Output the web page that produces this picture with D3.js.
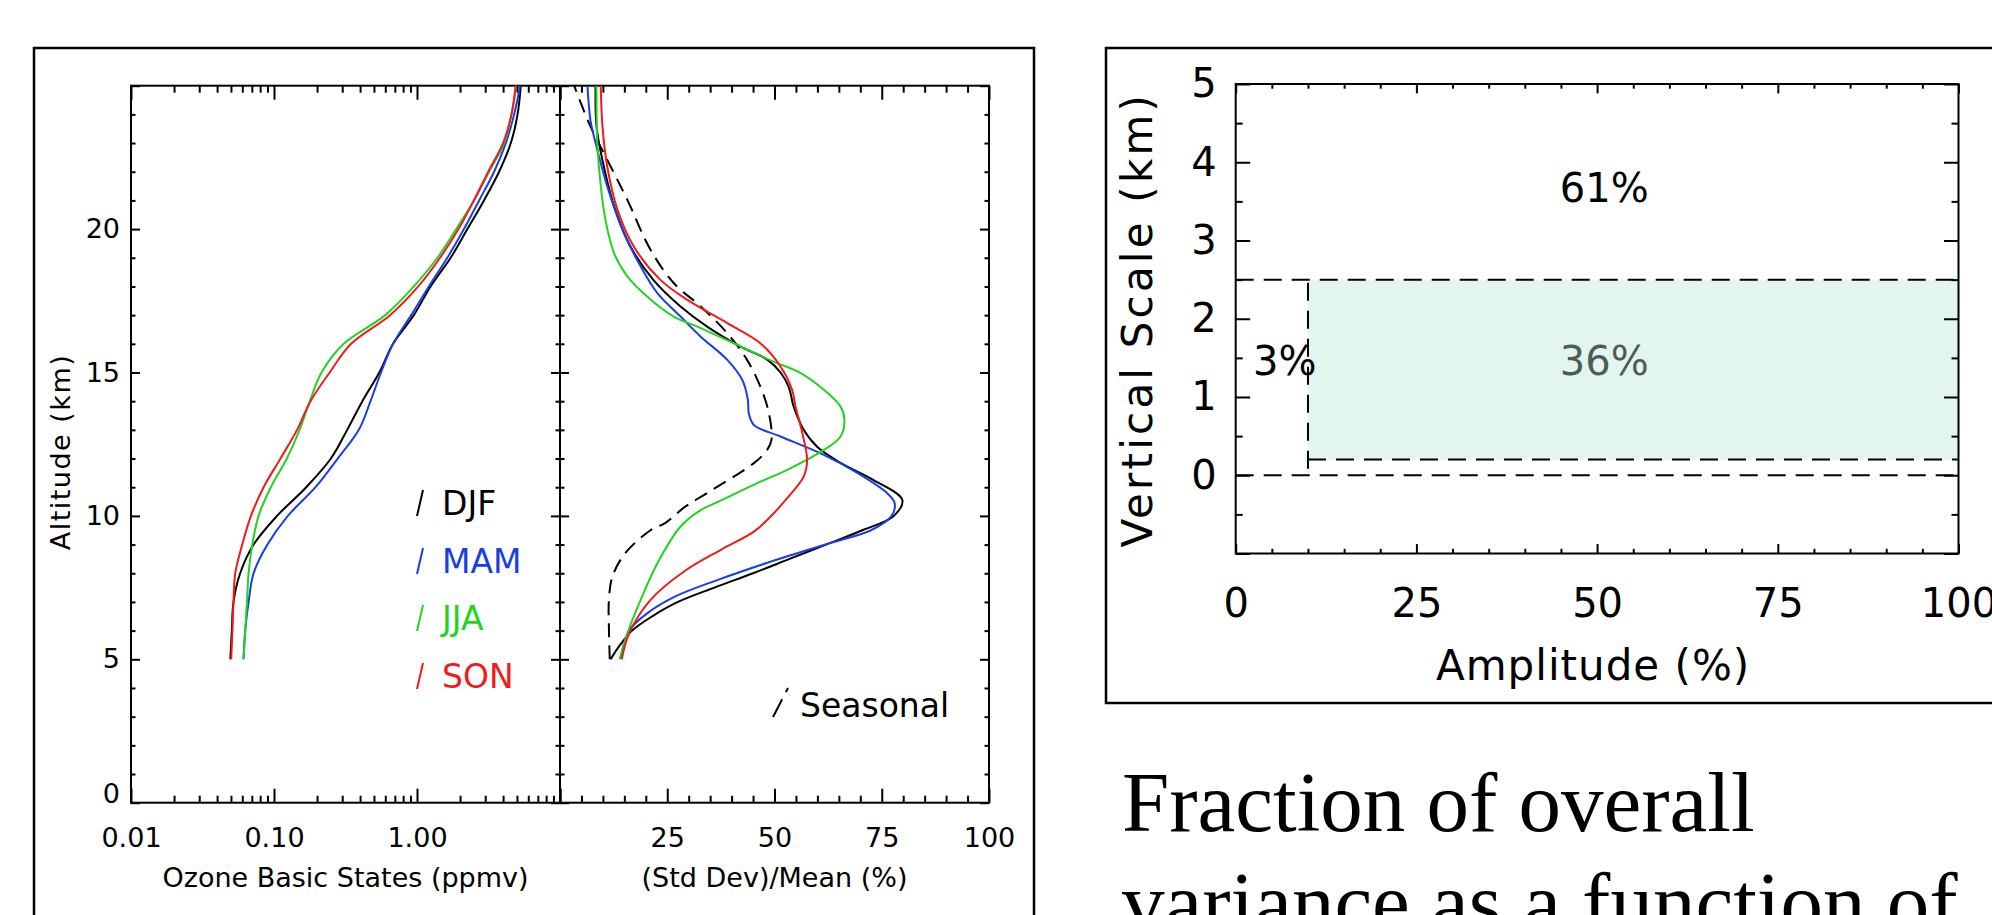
<!DOCTYPE html>
<html><head><meta charset="utf-8">
<script src="https://cdn.jsdelivr.net/npm/d3@7"></script>
<style>html,body{margin:0;padding:0;background:#fff;overflow:hidden}</style>
</head><body>
<svg id="fig" width="1992" height="915" xmlns="http://www.w3.org/2000/svg"></svg>
<script>
// ================= DATA =================
// Left figure, panel 1: ozone basic states (ppmv) at each altitude (km)
const altitudes = [5,6,7,8,9,10,11,12,13,14,15,16,17,18,19,20,21,22,23,24,25];
const seasons   = ["DJF","MAM","JJA","SON"];
const ozoneDJF = [0.0495,0.0507,0.0521,0.058,0.072,0.105,0.168,0.25,0.325,0.415,0.545,0.68,0.95,1.245,1.72,2.25,2.94,3.75,4.53,5.05,5.32];
const ozoneMAM = [0.0612,0.0629,0.0664,0.072,0.090,0.125,0.195,0.279,0.392,0.473,0.56,0.68,0.91,1.21,1.63,2.13,2.72,3.46,4.18,4.78,5.26];
const ozoneJJA = [0.0612,0.0629,0.0647,0.0664,0.0705,0.078,0.095,0.123,0.151,0.178,0.215,0.307,0.60,0.95,1.39,1.88,2.50,3.19,4.06,4.58,4.91];
const ozoneSON = [0.0502,0.0512,0.0521,0.0536,0.060,0.069,0.0846,0.111,0.145,0.180,0.245,0.346,0.648,1.02,1.45,1.95,2.50,3.15,4.0,4.58,4.91];

// Left figure, panel 2: (Std Dev)/Mean (%) as [altitude km, percent]
const devDJF = [[5,11.8],[5.5,14.0],[6,16.8],[6.5,21.5],[7,27.5],[7.5,36.0],[8,45.0],[8.5,53.5],[9,62.0],[9.5,70.5],[10,77.8],[10.55,79.8],[11.25,73.1],[11.85,65.4],[12.4,60.0],[13,56.8],[13.8,54.5],[14.5,53.3],[15,51.4],[15.45,48.3],[15.9,42.1],[16.6,34.3],[17.3,28.1],[18.2,21.9],[19.4,16.4],[20.8,12.6],[22.4,9.9],[23.6,8.5],[25,8.3]];
const devMAM = [[5,14.1],[6,16.1],[6.6,20.3],[7.2,27.0],[7.77,36.8],[8.35,48.0],[8.8,57.5],[9.1,64.0],[9.5,72.5],[10,77.3],[10.45,78.0],[10.8,76.2],[11.5,69.3],[12.13,61.5],[12.77,51.4],[13.17,45.2],[13.58,44.0],[14.05,43.8],[14.74,42.5],[15.44,39.0],[16.25,32.8],[16.95,28.1],[17.77,22.7],[18.7,18.8],[19.86,14.9],[21.5,11.0],[23.0,8.3],[23.8,7.1],[25,6.4]];
const devJJA = [[5,13.9],[5.9,15.7],[7.07,18.8],[8.35,22.7],[9.63,28.1],[10.2,32.8],[10.5,37.0],[11.14,46.0],[11.66,53.7],[12.3,61.5],[12.77,65.4],[13.35,66.3],[13.81,65.4],[14.4,61.5],[14.98,56.1],[15.38,49.8],[16.02,40.5],[16.6,32.0],[16.95,26.5],[17.65,20.3],[18.35,15.7],[19.16,12.6],[20.32,10.6],[21.5,9.5],[23.0,8.7],[25,8.5]];
const devSON = [[5,14.4],[5.9,16.1],[7.07,21.1],[8.06,28.9],[8.81,37.4],[9.45,45.2],[9.98,49.1],[10.56,52.6],[11.37,56.8],[11.95,57.6],[12.88,56.5],[13.81,54.9],[14.4,54.1],[15.21,51.4],[16.02,46.7],[16.72,39.0],[17.53,29.7],[18.23,23.4],[19.39,17.2],[20.67,13.4],[22.19,11.0],[23.58,9.9],[25,9.5]];
const devSeasonal = [[5,11.6],[6.1,11.4],[7.07,11.4],[7.88,12.2],[8.7,15.2],[9.5,21.1],[9.75,24.5],[10.3,29.0],[10.8,34.3],[11.84,45.2],[12.3,48.3],[12.65,49.3],[13.58,48.7],[14.51,46.7],[15.44,43.6],[16.37,39.0],[17.3,32.8],[18.12,26.5],[19.28,21.1],[21.02,15.7],[22.42,11.0],[23.58,7.1],[25,3.3]];

// Tick values / labels
const ozoneTicks = [0.01,0.1,1,10];
const ozoneTickLabels = ["0.01","0.10","1.00",""];
const devTicks = [0,25,50,75,100];
const devTickLabels = ["","25","50","75","100"];
const altTicks = [0,5,10,15,20,25];
const altTickLabels = ["0","5","10","15","20",""];

// Right figure: fraction of variance by amplitude (%) and vertical scale (km)
const ampTicks = [0,25,50,75,100];
const ampTickLabels = ["0","25","50","75","100"];
const vsTicks = [-1,0,1,2,3,4,5];
const vsTickLabels = ["","0","1","2","3","4","5"];
const bandAmp = [10,100];
const bandScale = [0.2,2.5];
const fullLevels = [2.5,0];          // dashed across full amplitude range
const partLevels = [0.2];            // dashed from amplitude 10 to 100
const splitAmp = [10];               // vertical dashed divider
const regionLabels = ["61%","36%","3%"];
const regionAmp = [51,51,6.8];
const regionScale = [3.67,1.47,1.47];

const captionLines = ["Fraction of overall","variance as a function of"];

// ================= STYLE =================
const COLORS = {DJF:"#000000", MAM:"#1a3ee6", JJA:"#22d422", SON:"#f21a1a"};
const FONT = "'DejaVu Sans', sans-serif";

// ================= DRAW =================
const svg = d3.select("#fig");
svg.append("rect").attr("width",1992).attr("height",915).attr("fill","#fff");

function addAxis(axis, tx, ty, fs) {
  const g = svg.append("g").attr("transform", `translate(${tx},${ty})`).call(axis);
  g.select(".domain").remove();
  g.selectAll(".tick line").attr("stroke","#000").attr("stroke-width",2);
  g.selectAll(".tick text").attr("fill","#000");
  g.attr("font-family", FONT).attr("font-size", fs || 10);
  return g;
}

// ---- outer boxes ----
svg.append("rect").attr("x",34).attr("y",48).attr("width",1000).attr("height",1000)
  .attr("fill","none").attr("stroke","#000").attr("stroke-width",2.5);
svg.append("rect").attr("x",1106).attr("y",48).attr("width",1000).attr("height",655)
  .attr("fill","none").attr("stroke","#000").attr("stroke-width",2.5);

// ---- left figure scales ----
const L = {x0:131, x1:560, x2:989, y0:85.7, y1:802.7};
const xOz  = d3.scaleLog().domain([0.01,10]).range([L.x0, L.x1]);
const xDev = d3.scaleLinear().domain([0,100]).range([L.x1, L.x2]);
const yAlt = d3.scaleLinear().domain([0,25]).range([L.y1, L.y0]);

const ozMinor = xOz.ticks().filter(v => !ozoneTicks.some(t => Math.abs(t - v) < 1e-9));
const devMinor = xDev.ticks(20).filter(v => v % 25 !== 0);
const altMinor = yAlt.ticks(25).filter(v => v % 5 !== 0);

const LF = 27;
// bottom / top of ozone panel
addAxis(d3.axisBottom(xOz).tickValues(ozoneTicks).tickSize(-14).tickPadding(25).tickFormat((d,i)=>ozoneTickLabels[i]), 0, L.y1, LF);
addAxis(d3.axisBottom(xOz).tickValues(ozMinor).tickSize(-7).tickFormat(""), 0, L.y1);
addAxis(d3.axisTop(xOz).tickValues(ozoneTicks).tickSize(-14).tickFormat(""), 0, L.y0);
addAxis(d3.axisTop(xOz).tickValues(ozMinor).tickSize(-7).tickFormat(""), 0, L.y0);
// bottom / top of deviation panel
addAxis(d3.axisBottom(xDev).tickValues(devTicks).tickSize(-14).tickPadding(25).tickFormat((d,i)=>devTickLabels[i]), 0, L.y1, LF);
addAxis(d3.axisBottom(xDev).tickValues(devMinor).tickSize(-7).tickFormat(""), 0, L.y1);
addAxis(d3.axisTop(xDev).tickValues(devTicks).tickSize(-14).tickFormat(""), 0, L.y0);
addAxis(d3.axisTop(xDev).tickValues(devMinor).tickSize(-7).tickFormat(""), 0, L.y0);
// vertical axes
const yl = addAxis(d3.axisLeft(yAlt).tickValues(altTicks).tickSize(-9).tickPadding(11).tickFormat((d,i)=>altTickLabels[i]), L.x0, 0, LF);
yl.selectAll(".tick").filter(d => d === 0).select("text").attr("dy","0.0em");
addAxis(d3.axisLeft(yAlt).tickValues(altMinor).tickSize(-4.5).tickFormat(""), L.x0, 0);
addAxis(d3.axisRight(yAlt).tickValues(altTicks).tickSize(-9).tickFormat(""), L.x1, 0);
addAxis(d3.axisRight(yAlt).tickValues(altMinor).tickSize(-4.5).tickFormat(""), L.x1, 0);
addAxis(d3.axisLeft(yAlt).tickValues(altTicks).tickSize(-9).tickFormat(""), L.x1, 0);
addAxis(d3.axisLeft(yAlt).tickValues(altMinor).tickSize(-4.5).tickFormat(""), L.x1, 0);
addAxis(d3.axisRight(yAlt).tickValues(altTicks).tickSize(-9).tickFormat(""), L.x2, 0);
addAxis(d3.axisRight(yAlt).tickValues(altMinor).tickSize(-4.5).tickFormat(""), L.x2, 0);

// frames
svg.append("rect").attr("x",L.x0).attr("y",L.y0).attr("width",L.x2-L.x0).attr("height",L.y1-L.y0)
  .attr("fill","none").attr("stroke","#000").attr("stroke-width",2);
svg.append("line").attr("x1",L.x1).attr("x2",L.x1).attr("y1",L.y0).attr("y2",L.y1)
  .attr("stroke","#000").attr("stroke-width",2);

// axis titles
svg.append("text").attr("x",(L.x0+L.x1)/2).attr("y",887).attr("text-anchor","middle")
  .attr("font-family",FONT).attr("font-size",LF).text("Ozone Basic States (ppmv)");
svg.append("text").attr("x",(L.x1+L.x2)/2).attr("y",887).attr("text-anchor","middle")
  .attr("font-family",FONT).attr("font-size",LF).text("(Std Dev)/Mean (%)");
svg.append("text").attr("transform",`translate(70,452) rotate(-90)`).attr("text-anchor","middle")
  .attr("font-family",FONT).attr("font-size",LF).attr("letter-spacing",1.5).text("Altitude (km)");

// curves
const ozLine = d3.line().x(d => xOz(d[1])).y(d => yAlt(d[0])).curve(d3.curveCatmullRom.alpha(0.5));
const devLine = d3.line().x(d => xDev(d[1])).y(d => yAlt(d[0])).curve(d3.curveCatmullRom.alpha(0.5));
const ozSeries = {DJF:ozoneDJF, MAM:ozoneMAM, JJA:ozoneJJA, SON:ozoneSON};
const devSeries = {DJF:devDJF, MAM:devMAM, JJA:devJJA, SON:devSON};
seasons.forEach(s => {
  svg.append("path").attr("d", ozLine(altitudes.map((a,i)=>[a, ozSeries[s][i]])))
    .attr("fill","none").attr("stroke",COLORS[s]).attr("stroke-width",2);
});
svg.append("path").attr("d", devLine(devSeasonal)).attr("fill","none").attr("stroke","#000")
  .attr("stroke-width",2).attr("stroke-dasharray","14,8");
seasons.forEach(s => {
  svg.append("path").attr("d", devLine(devSeries[s]))
    .attr("fill","none").attr("stroke",COLORS[s]).attr("stroke-width",2);
});

// legend
const legY = [503, 561, 618, 676];
seasons.forEach((s,i) => {
  svg.append("line").attr("x1",417).attr("y1",legY[i]+13).attr("x2",423).attr("y2",legY[i]-13)
    .attr("stroke",COLORS[s]).attr("stroke-width",2);
  svg.append("text").attr("x",442).attr("y",legY[i]).attr("dy","0.36em")
    .attr("font-family",FONT).attr("font-size",33).attr("fill",COLORS[s]).text(s);
});
svg.append("line").attr("x1",773).attr("y1",717).attr("x2",788).attr("y2",688)
  .attr("stroke","#000").attr("stroke-width",2).attr("stroke-dasharray","20,8");
svg.append("text").attr("x",800).attr("y",705).attr("dy","0.36em")
  .attr("font-family",FONT).attr("font-size",33).text("Seasonal");

// ---- right figure ----
const R = {x0:1235.7, x1:1958.5, y0:84, y1:553.5};
const xAmp = d3.scaleLinear().domain([0,100]).range([R.x0, R.x1]);
const yVs  = d3.scaleLinear().domain([-1,5]).range([R.y1, R.y0]);

svg.append("rect").attr("x",xAmp(bandAmp[0])).attr("width",xAmp(bandAmp[1])-xAmp(bandAmp[0]))
  .attr("y",yVs(bandScale[1])).attr("height",yVs(bandScale[0])-yVs(bandScale[1]))
  .attr("fill","#e2f5ef");

const dash = "18,10";
fullLevels.forEach(v => svg.append("line").attr("x1",xAmp(0)).attr("x2",xAmp(100)).attr("y1",yVs(v)).attr("y2",yVs(v))
  .attr("stroke","#000").attr("stroke-width",2).attr("stroke-dasharray",dash));
partLevels.forEach(v => svg.append("line").attr("x1",xAmp(splitAmp[0])).attr("x2",xAmp(100)).attr("y1",yVs(v)).attr("y2",yVs(v))
  .attr("stroke","#000").attr("stroke-width",2).attr("stroke-dasharray",dash));
splitAmp.forEach(a => svg.append("line").attr("x1",xAmp(a)).attr("x2",xAmp(a)).attr("y1",yVs(bandScale[1])+3).attr("y2",yVs(0))
  .attr("stroke","#000").attr("stroke-width",2).attr("stroke-dasharray",dash));

const RF = 40;
regionLabels.forEach((t,i) => {
  svg.append("text").attr("x",xAmp(regionAmp[i])).attr("y",yVs(regionScale[i])).attr("dy","0.36em")
    .attr("text-anchor","middle").attr("font-family",FONT).attr("font-size",RF)
    .attr("fill", i === 1 ? "#4e5c58" : "#000").text(t);
});

const ampMinor = xAmp.ticks(20).filter(v => v % 25 !== 0);
const vsMinor = yVs.ticks(12).filter(v => !Number.isInteger(v));
addAxis(d3.axisBottom(xAmp).tickValues(ampTicks).tickSize(-9.4).tickPadding(35).tickFormat((d,i)=>ampTickLabels[i]), 0, R.y1, RF);
addAxis(d3.axisBottom(xAmp).tickValues(ampMinor).tickSize(-4.7).tickFormat(""), 0, R.y1);
addAxis(d3.axisTop(xAmp).tickValues(ampTicks).tickSize(-9.4).tickFormat(""), 0, R.y0);
addAxis(d3.axisTop(xAmp).tickValues(ampMinor).tickSize(-4.7).tickFormat(""), 0, R.y0);
addAxis(d3.axisLeft(yVs).tickValues(vsTicks).tickSize(-14.5).tickPadding(19).tickFormat((d,i)=>vsTickLabels[i]), R.x0, 0, RF);
addAxis(d3.axisLeft(yVs).tickValues(vsMinor).tickSize(-7).tickFormat(""), R.x0, 0);
addAxis(d3.axisRight(yVs).tickValues(vsTicks).tickSize(-14.5).tickFormat(""), R.x1, 0);
addAxis(d3.axisRight(yVs).tickValues(vsMinor).tickSize(-7).tickFormat(""), R.x1, 0);

svg.append("rect").attr("x",R.x0).attr("y",R.y0).attr("width",R.x1-R.x0).attr("height",R.y1-R.y0)
  .attr("fill","none").attr("stroke","#000").attr("stroke-width",2);

svg.append("text").attr("x",(R.x0+R.x1)/2-4).attr("y",680).attr("text-anchor","middle")
  .attr("font-family",FONT).attr("font-size",42).attr("letter-spacing",1).text("Amplitude (%)");
svg.append("text").attr("transform",`translate(1152,${(R.y0+R.y1)/2+1}) rotate(-90)`).attr("text-anchor","middle")
  .attr("font-family",FONT).attr("font-size",42).attr("letter-spacing",3.2).text("Vertical Scale (km)");

// caption
captionLines.forEach((t,i) => {
  svg.append("text").attr("x",1122).attr("y",831 + i*100)
    .attr("font-family","'Liberation Serif','Times New Roman',serif").attr("font-size",85).text(t);
});
</script>
</body></html>
